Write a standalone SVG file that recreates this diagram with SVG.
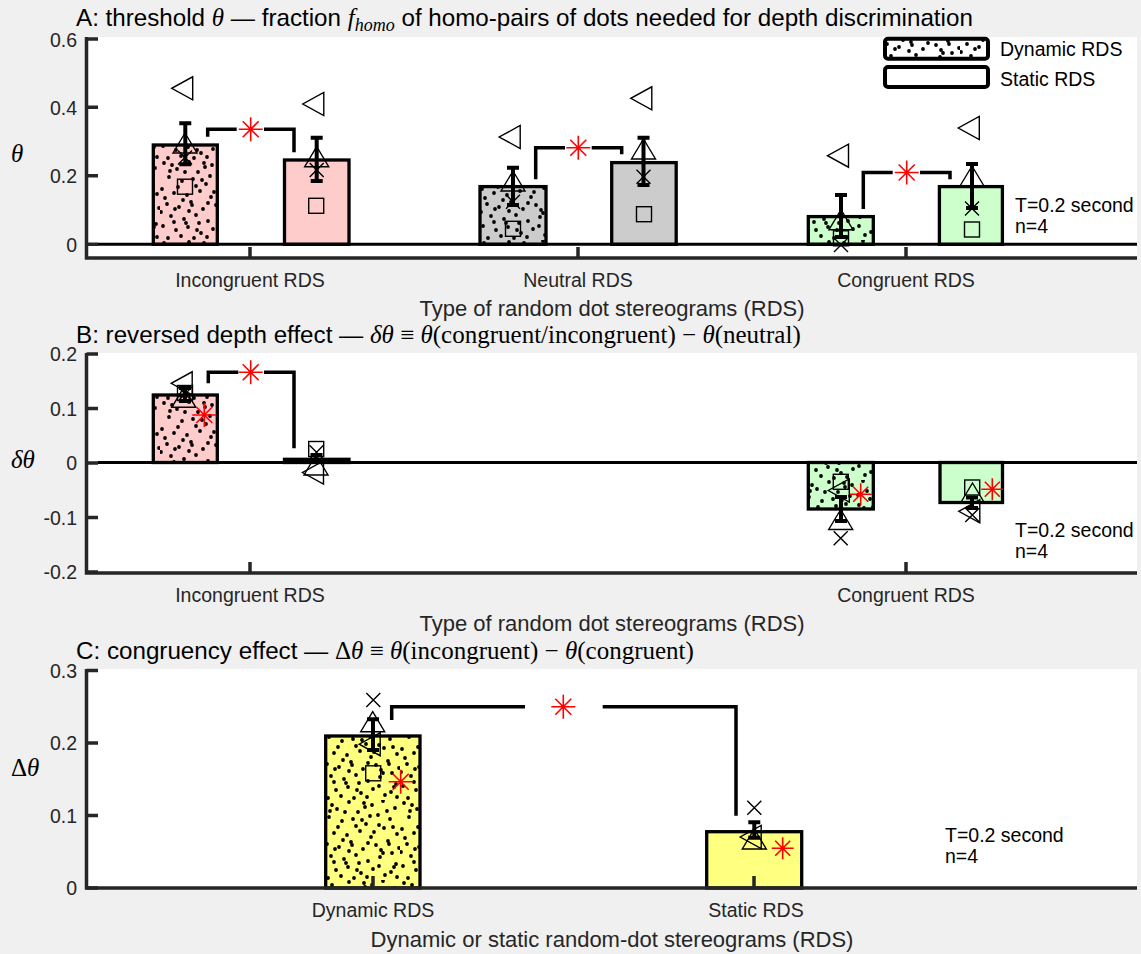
<svg xmlns="http://www.w3.org/2000/svg" width="1141" height="954" viewBox="0 0 1141 954">
<style>
.tk{font-family:"Liberation Sans",Arial,sans-serif;font-size:19.5px;fill:#262626}
.tkl{text-anchor:end}
.tkx{text-anchor:middle}
.xl{font-family:"Liberation Sans",Arial,sans-serif;font-size:22px;fill:#262626;text-anchor:middle}
.ti{font-family:"Liberation Sans",Arial,sans-serif;font-size:24.2px;fill:#000}
.m{font-family:"Liberation Serif","Times New Roman",serif;font-style:italic;font-size:25px}
.r{font-family:"Liberation Serif","Times New Roman",serif;font-style:normal;font-size:25px}
.sub{font-size:18px}
.yl{font-size:25px;fill:#000}
.note{font-family:"Liberation Sans",Arial,sans-serif;font-size:19.5px;fill:#000}
.ax{fill:none;stroke:#262626;stroke-width:3.5}
.base{fill:none;stroke:#000;stroke-width:3}
.bar{stroke:#000;stroke-width:3.3}
.pk{fill:#ffcccc}.gy{fill:#cccccc}.gn{fill:#ccffcc}.yl2{fill:#ffff80}
.dt{fill:url(#dots);stroke:none}
.eb{fill:none;stroke:#000;stroke-width:4}
.br{fill:none;stroke:#000;stroke-width:3.5}
</style>
<defs>
<pattern id="dots" patternUnits="userSpaceOnUse" width="80" height="80">
<g fill="#000">
<circle cx="4" cy="3" r="1.9"/><circle cx="17" cy="9" r="1.9"/><circle cx="29" cy="2" r="1.9"/><circle cx="38" cy="12" r="1.9"/><circle cx="52" cy="5" r="1.9"/><circle cx="63" cy="1" r="1.9"/><circle cx="75" cy="8" r="1.9"/><circle cx="9" cy="17" r="1.9"/><circle cx="22" cy="21" r="1.9"/><circle cx="33" cy="19" r="1.9"/><circle cx="46" cy="24" r="1.9"/><circle cx="58" cy="15" r="1.9"/><circle cx="70" cy="19" r="1.9"/><circle cx="2" cy="29" r="1.9"/><circle cx="14" cy="33" r="1.9"/><circle cx="27" cy="35" r="1.9"/><circle cx="40" cy="31" r="1.9"/><circle cx="51" cy="37" r="1.9"/><circle cx="64" cy="28" r="1.9"/><circle cx="77" cy="34" r="1.9"/><circle cx="7" cy="44" r="1.9"/><circle cx="19" cy="47" r="1.9"/><circle cx="31" cy="42" r="1.9"/><circle cx="43" cy="49" r="1.9"/><circle cx="56" cy="45" r="1.9"/><circle cx="68" cy="41" r="1.9"/><circle cx="79" cy="48" r="1.9"/><circle cx="11" cy="56" r="1.9"/><circle cx="24" cy="59" r="1.9"/><circle cx="36" cy="55" r="1.9"/><circle cx="48" cy="61" r="1.9"/><circle cx="60" cy="57" r="1.9"/><circle cx="72" cy="53" r="1.9"/><circle cx="3" cy="66" r="1.9"/><circle cx="16" cy="70" r="1.9"/><circle cx="28" cy="67" r="1.9"/><circle cx="41" cy="73" r="1.9"/><circle cx="53" cy="69" r="1.9"/><circle cx="65" cy="75" r="1.9"/><circle cx="76" cy="64" r="1.9"/><circle cx="8" cy="78" r="1.9"/><circle cx="21" cy="76" r="1.9"/><circle cx="34" cy="78" r="1.9"/><circle cx="47" cy="77" r="1.9"/><circle cx="59" cy="66" r="1.9"/><circle cx="71" cy="72" r="1.9"/><circle cx="12" cy="5" r="1.9"/><circle cx="44" cy="3" r="1.9"/><circle cx="25" cy="12" r="1.9"/><circle cx="67" cy="11" r="1.9"/><circle cx="5" cy="38" r="1.9"/><circle cx="36" cy="26" r="1.9"/><circle cx="59" cy="25" r="1.9"/><circle cx="18" cy="27" r="1.9"/><circle cx="73" cy="27" r="1.9"/><circle cx="48" cy="43" r="1.9"/><circle cx="29" cy="51" r="1.9"/><circle cx="61" cy="50" r="1.9"/><circle cx="14" cy="62" r="1.9"/><circle cx="39" cy="63" r="1.9"/><circle cx="45" cy="7" r="1.9"/><circle cx="32" cy="45" r="1.9"/><circle cx="63" cy="53" r="1.9"/><circle cx="15" cy="49" r="1.9"/><circle cx="74" cy="67" r="1.9"/><circle cx="37" cy="70" r="1.9"/><circle cx="23" cy="40" r="1.9"/><circle cx="54" cy="32" r="1.9"/><circle cx="10" cy="11" r="1.9"/><circle cx="69" cy="44" r="1.9"/><circle cx="42" cy="20" r="1.9"/><circle cx="26" cy="63" r="1.9"/><circle cx="77" cy="77" r="1.9"/><circle cx="1" cy="52" r="1.9"/><circle cx="50" cy="16" r="1.9"/>
</g>
</pattern>
<polygon id="tl" points="10.5,-11.5 10.5,11.5 -10.5,0" fill="none" stroke="#000" stroke-width="1.4"/>
<polygon id="tu" points="-12,10 12,10 0,-10" fill="none" stroke="#000" stroke-width="1.4"/>
<rect id="sq" x="-7.5" y="-7.5" width="15" height="15" fill="none" stroke="#000" stroke-width="1.4"/>
<path id="xx" d="M-7,-7L7,7M-7,7L7,-7" fill="none" stroke="#000" stroke-width="1.4"/>
<path id="ast" d="M-12,0H12M0,-12V12M-8,-8L8,8M-8,8L8,-8" fill="none" stroke="#ff0000" stroke-width="1.6"/>
<path id="asts" d="M-11,0H11M0,-11V11M-7.5,-7.5L7.5,7.5M-7.5,7.5L7.5,-7.5" fill="none" stroke="#ff0000" stroke-width="1.6"/>
</defs>

<rect x="0" y="0" width="1141" height="954" fill="#f0f0f0"/>

<!-- ================= PANEL A ================= -->
<g id="panelA">
<rect x="86" y="37" width="1051" height="221" fill="#fff"/>
<text class="ti" x="76" y="26">A: threshold <tspan class="m">θ</tspan> — fraction <tspan class="m">f</tspan><tspan class="m sub" dy="5">homo</tspan><tspan dy="-5"> of homo-pairs of dots needed for depth discrimination</tspan></text>
<text class="m yl" x="11" y="162">θ</text>
<g id="A-bar-incong-dyn"><rect class="bar pk" x="153.3" y="145" width="64" height="99.3"/><rect class="dt" x="153.3" y="145" width="64" height="99.3"/></g>
<g id="A-bar-incong-sta"><rect class="bar pk" x="284.5" y="160" width="64.5" height="84.3"/></g>
<g id="A-bar-neut-dyn"><rect class="bar gy" x="480" y="186.6" width="66" height="57.7"/><rect class="dt" x="480" y="186.6" width="66" height="57.7"/></g>
<g id="A-bar-neut-sta"><rect class="bar gy" x="611.7" y="162.6" width="64.5" height="81.7"/></g>
<g id="A-bar-cong-dyn"><rect class="bar gn" x="808.3" y="216.6" width="65" height="27.7"/><rect class="dt" x="808.3" y="216.6" width="65" height="27.7"/></g>
<g id="A-bar-cong-sta"><rect class="bar gn" x="939.4" y="186.6" width="63" height="57.7"/></g>
<path class="base" d="M98,244.3H1137"/>
<g id="A-axes">
<path class="ax" d="M86.5,37V258H1137"/>
<path class="ax" d="M86.5,39H98M86.5,107.3H98M86.5,175.8H98M86.5,244.3H98M250,258V247M578,258V247M906,258V247"/>
<text class="tk tkl" x="77" y="46.5">0.6</text>
<text class="tk tkl" x="77" y="114.8">0.4</text>
<text class="tk tkl" x="77" y="183.3">0.2</text>
<text class="tk tkl" x="77" y="251.8">0</text>
<text class="tk tkx" x="250" y="287.3">Incongruent RDS</text>
<text class="tk tkx" x="578" y="287.3">Neutral RDS</text>
<text class="tk tkx" x="906" y="287.3">Congruent RDS</text>
<text class="xl" x="612" y="315.5">Type of random dot stereograms (RDS)</text>
</g>
<g id="A-markers">
<path class="eb" d="M185.3,123.3V164.3M179.3,123.3H191.3M179.3,164.3H191.3"/>
<use href="#tl" x="182.2" y="88.3"/><use href="#tu" x="185" y="143"/><use href="#xx" x="185" y="157.5"/><use href="#sq" x="185" y="186.7"/>
<path class="eb" d="M316.7,137.7V181M310.7,137.7H322.7M310.7,181H322.7"/>
<use href="#tl" x="313.3" y="104"/><use href="#tu" x="316.7" y="156.7"/><use href="#xx" x="316.7" y="170"/><use href="#sq" x="316.2" y="205.8"/>
<path class="eb" d="M513,167.7V205M507,167.7H519M507,205H519"/>
<use href="#tl" x="509.7" y="137"/><use href="#tu" x="513" y="181"/><use href="#xx" x="513" y="201.7"/><use href="#sq" x="513" y="228.8"/>
<path class="eb" d="M643.5,137.7V185M637.5,137.7H649.5M637.5,185H649.5"/>
<use href="#tl" x="641.3" y="98.3"/><use href="#tu" x="643.5" y="149"/><use href="#xx" x="643.5" y="176.7"/><use href="#sq" x="644" y="214.2"/>
<path class="eb" d="M841,195V237M835,195H847M835,237H847"/>
<use href="#tl" x="838" y="155.7"/><use href="#tu" x="841" y="219.7"/><use href="#sq" x="841" y="238.3"/><use href="#xx" x="841" y="245"/>
<path class="eb" d="M972,164V208M966,164H978M966,208H978"/>
<use href="#tl" x="968.8" y="128"/><use href="#tu" x="972" y="176"/><use href="#xx" x="972" y="208.5"/><use href="#sq" x="972" y="229.5"/>
</g>
<g id="A-legend">
<rect x="885" y="38.7" width="103" height="20" rx="3" fill="#fff" stroke="#000" stroke-width="4"/>
<rect x="886" y="39.7" width="101" height="18" fill="url(#dots)"/>
<rect x="885" y="67" width="103" height="20" rx="3" fill="#fff" stroke="#000" stroke-width="4"/>
<text class="note" x="1000" y="56">Dynamic RDS</text>
<text class="note" x="1000" y="86">Static RDS</text>
</g>
<text class="note" x="1015" y="211.7">T=0.2 second</text>
<text class="note" x="1015" y="233.3">n=4</text>
</g>

<!-- ================= PANEL B ================= -->
<g id="panelB">
<rect x="86" y="353" width="1051" height="220" fill="#fff"/>
<text class="ti" x="76" y="342.5">B: reversed depth effect — <tspan class="m">δθ</tspan><tspan class="r"> ≡ </tspan><tspan class="m">θ</tspan><tspan class="r">(congruent/incongruent) − </tspan><tspan class="m">θ</tspan><tspan class="r">(neutral)</tspan></text>
<text class="m yl" x="11" y="468">δθ</text>
<g id="B-bar-incong-dyn"><rect class="bar pk" x="153.3" y="395" width="64" height="67.5"/><rect class="dt" x="153.3" y="395" width="64" height="67.5"/></g>
<g id="B-bar-incong-sta"><rect class="bar pk" x="284.5" y="459.3" width="64.5" height="3.2"/></g>
<g id="B-bar-cong-dyn"><rect class="bar gn" x="808.3" y="462.5" width="65" height="46.5"/><rect class="dt" x="808.3" y="462.5" width="65" height="46.5"/></g>
<g id="B-bar-cong-sta"><rect class="bar gn" x="940" y="462.5" width="62.5" height="40"/></g>
<path class="base" d="M98,462.5H1137"/>
<g id="B-axes">
<path class="ax" d="M86.5,353V573H1137"/>
<path class="ax" d="M86.5,354H98M86.5,408.5H98M86.5,463H98M86.5,517.5H98M86.5,572H98M250,573V562M906,573V562"/>
<text class="tk tkl" x="77" y="361">0.2</text>
<text class="tk tkl" x="77" y="415.5">0.1</text>
<text class="tk tkl" x="77" y="470">0</text>
<text class="tk tkl" x="77" y="524.5">-0.1</text>
<text class="tk tkl" x="77" y="579">-0.2</text>
<text class="tk tkx" x="250" y="601.7">Incongruent RDS</text>
<text class="tk tkx" x="906" y="601.7">Congruent RDS</text>
<text class="xl" x="612" y="630.5">Type of random dot stereograms (RDS)</text>
</g>
<g id="B-markers">
<use href="#tl" x="181.7" y="383.3"/><use href="#tu" x="183.8" y="397.3"/><use href="#sq" x="185" y="393"/><use href="#xx" x="185" y="394"/>
<path class="eb" d="M185,388V401M179,388H191M179,401H191"/>
<use href="#ast" x="204.3" y="415"/>
<use href="#sq" x="316.2" y="449"/><use href="#xx" x="316.5" y="452.3"/><use href="#tu" x="316" y="465"/><use href="#tl" x="313" y="472.5"/>
<path class="eb" d="M316.5,455V460M310.5,455H322.5M310.5,460H322.5"/>
<use href="#sq" x="840.8" y="481.8"/><use href="#tl" x="838.8" y="490.5"/>
<path class="eb" d="M841,497V521M835,497H847M835,521H847"/>
<use href="#tu" x="840.7" y="519.5"/><use href="#xx" x="840.7" y="538.3"/>
<use href="#asts" x="860.7" y="494.3"/>
<use href="#sq" x="972.2" y="487.5"/><use href="#tu" x="972.5" y="493"/>
<path class="eb" d="M972,497.5V508M966,497.5H978M966,508H978"/>
<use href="#tl" x="969.3" y="511.3"/><use href="#xx" x="972.3" y="515"/>
<use href="#asts" x="992.3" y="489.3"/>
</g>
<text class="note" x="1015" y="536.7">T=0.2 second</text>
<text class="note" x="1015" y="558.3">n=4</text>
</g>

<!-- ================= PANEL C ================= -->
<g id="panelC">
<rect x="86" y="669" width="1051" height="219" fill="#fff"/>
<text class="ti" x="76" y="658.8">C: congruency effect — <tspan class="r">Δ</tspan><tspan class="m">θ</tspan><tspan class="r"> ≡ </tspan><tspan class="m">θ</tspan><tspan class="r">(incongruent) − </tspan><tspan class="m">θ</tspan><tspan class="r">(congruent)</tspan></text>
<text class="yl" x="11" y="776"><tspan class="r">Δ</tspan><tspan class="m">θ</tspan></text>
<g id="C-bar-dyn"><rect class="bar yl2" x="325.7" y="736" width="94.3" height="152"/><rect class="dt" x="325.7" y="736" width="94.3" height="152"/></g>
<g id="C-bar-sta"><rect class="bar yl2" x="706.7" y="831.7" width="95" height="56.3"/></g>
<g id="C-axes">
<path class="ax" d="M86.5,669V888H1137"/>
<path class="ax" d="M86.5,670.5H98M86.5,743H98M86.5,815.5H98M86.5,888H98M373,888V876M754,888V876"/>
<text class="tk tkl" x="77" y="677.5">0.3</text>
<text class="tk tkl" x="77" y="750">0.2</text>
<text class="tk tkl" x="77" y="822.5">0.1</text>
<text class="tk tkl" x="77" y="895">0</text>
<text class="tk tkx" x="373" y="917.3">Dynamic RDS</text>
<text class="tk tkx" x="756" y="917.3">Static RDS</text>
<text class="xl" x="612" y="946.7">Dynamic or static random-dot stereograms (RDS)</text>
</g>
<g id="C-markers">
<use href="#xx" x="373.3" y="700"/><use href="#tu" x="372.7" y="721.7"/>
<path class="eb" d="M373,719.3V750M367,719.3H379M367,750H379"/>
<use href="#tl" x="369.7" y="744.2"/><use href="#sq" x="373.2" y="773.3"/>
<use href="#ast" x="400.7" y="781.7"/>
<use href="#xx" x="754.3" y="807.7"/>
<path class="eb" d="M754.3,822.3V837.7M748.3,822.3H760.3M748.3,837.7H760.3"/>
<use href="#tu" x="754.3" y="839"/><use href="#tl" x="750.7" y="837"/>
<use href="#asts" x="782.7" y="848.3"/>
</g>
<text class="note" x="945" y="841.7">T=0.2 second</text>
<text class="note" x="945" y="863.3">n=4</text>
</g>

<!-- ================= CONNECTORS (significance brackets) ================= -->
<g id="connectors">
<path class="br" d="M207.7,136.7V129.3H236.7M264,129.3H294V152.3"/>
<use href="#ast" x="250.7" y="129.3"/>
<path class="br" d="M535.7,179.3V147.7H565M591.7,147.7H621.7V154.3"/>
<use href="#ast" x="578.3" y="147.7"/>
<path class="br" d="M863.3,209V172.5H892.7M920,172.5H950V179.3"/>
<use href="#ast" x="906.7" y="172.5"/>
<path class="br" d="M208.3,383.3V372.3H238.3M264,372.3H294V448.3"/>
<use href="#ast" x="250.7" y="372.3"/>
<path class="br" d="M391.7,720V706.7H525M602.7,706.7H736V815.7"/>
<use href="#ast" x="563.3" y="706.7"/>
</g>
</svg>
